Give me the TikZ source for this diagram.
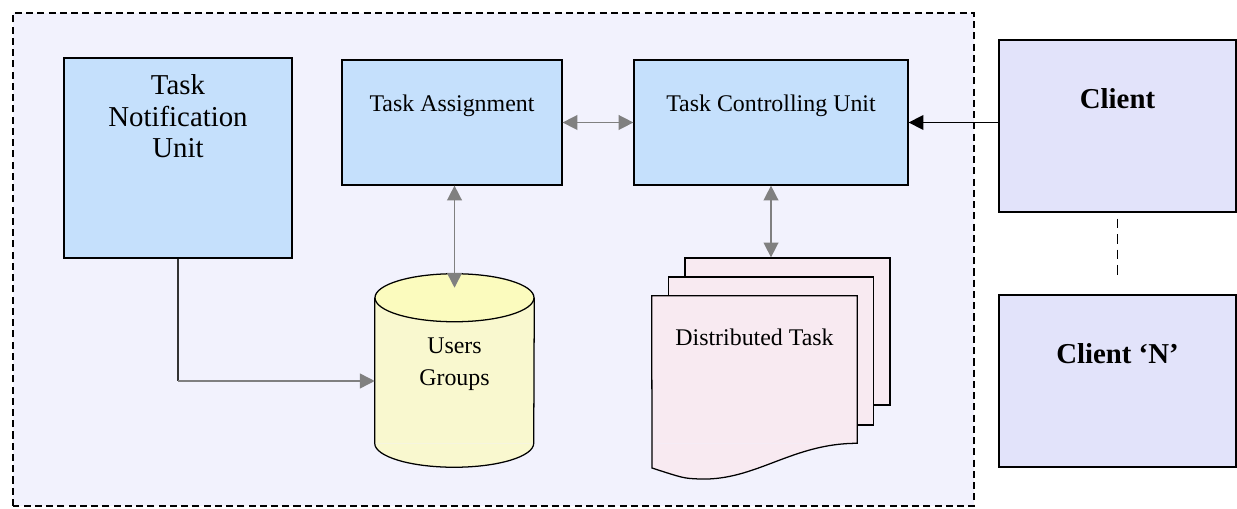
\documentclass[tikz,border=0pt]{standalone}
\usepackage{fontspec}
\setmainfont{Liberation Serif}
\usetikzlibrary{arrows.meta}
\definecolor{panelbg}{HTML}{F2F2FD}
\definecolor{unitblue}{HTML}{C5E0FC}
\definecolor{clientbg}{HTML}{E2E3FA}
\definecolor{cylbody}{HTML}{F9F8CF}
\definecolor{cyltop}{HTML}{FBFBBE}
\definecolor{pagebg}{HTML}{F8EAF1}
\definecolor{linkgray}{HTML}{808080}
\begin{document}
\begin{tikzpicture}%
[>={Triangle[length=0.37cm,width=0.37cm]},
unit/.style={rectangle,draw=black,fill=unitblue,line width=0.9pt,inner sep=0pt,
align=center,font=\fontsize{17}{22.7}\selectfont},
client/.style={rectangle,draw=black,fill=clientbg,line width=0.9pt,inner sep=0pt,
minimum width=5.925cm,text height=48.4pt,text depth=73.9pt,
font=\fontsize{20.5}{24}\selectfont\bfseries},
sheet/.style={rectangle,draw=black,fill=pagebg,line width=0.9pt,inner sep=0pt,
minimum width=5.125cm},
link/.style={draw=linkgray,line width=1.1pt}]
\useasboundingbox (0,0) rectangle (30.925,12.7);
\draw [line width=0.9pt,dash pattern=on 5pt off 3pt,fill=panelbg]
(0.325,0.05) rectangle (24.35,12.375);
\node (notify) at (4.45,8.75) [unit,minimum width=5.7cm,text height=71.1pt,
text depth=71.2pt,font=\fontsize{20.5}{22.5}\selectfont] {Task\\Notification\\Unit};
\node (assign) at (11.3,9.6375) [unit,minimum width=5.5cm,text height=36.3pt,
text depth=52.6pt] {Task Assignment};
\node (control) at (19.275,9.6375) [unit,minimum width=6.85cm,text height=36.3pt,
text depth=52.6pt] {Task Controlling Unit};
\node (client) at (27.9375,9.55) [client] {Client};
\node (clientn) at (27.9375,3.175) [client] {Client `N'};
\node (users) at (11.3625,3.4375) [fill=cylbody,inner sep=0pt,minimum width=3.975cm,
text height=61.9pt,text depth=41.2pt,align=center,
font=\fontsize{17}{22.7}\selectfont] {Users\\Groups};
\fill [cylbody] (users.south west) arc [start angle=180,end angle=360,
x radius=1.9875cm,y radius=0.6cm] -- cycle;
\draw [line width=0.9pt] (users.north west) -- (users.south west) arc
[start angle=180,end angle=360,x radius=1.9875cm,y radius=0.6cm] -- (users.north east);
\draw [line width=0.9pt,fill=cyltop] (users.north) ellipse [x radius=1.9875cm,
y radius=0.6cm];
\node (pageback) at (19.6875,4.4125) [sheet,minimum height=3.675cm] {};
\node (pagemid) at (19.275,3.925) [sheet,minimum height=3.7cm] {};
\node (dtask) at (18.8625,3.4625) [fill=pagebg,inner sep=0pt,minimum width=5.125cm,
text height=34.9pt,text depth=69.7pt,font=\fontsize{17}{22.7}\selectfont]
{Distributed Task};
\fill [pagebg] (dtask.south east) .. controls (19.8,1.62) and (18.9,0.68) ..
(17.5,0.725) .. controls (17.1,0.74) .. (16.3,1.0) -- (dtask.south west) -- cycle;
\draw [line width=0.9pt] (dtask.north west) -- (dtask.north east) -- (dtask.south east)
.. controls (19.8,1.62) and (18.9,0.68) .. (17.5,0.725) .. controls (17.1,0.74) ..
(16.3,1.0) -- cycle;
\coordinate (bend) at (notify.south |- 0,3.175);
\draw [line width=1.1pt,black!80] (notify.south) -- (bend);
\draw [->,link,fill=linkgray] (bend) -- (bend -| users.west);
\draw [<->,link,fill=linkgray] (assign.east) -- (control.west);
\draw [<->,link,fill=linkgray] (assign.south -| users.north) -- ([yshift=0.25cm]users.north);
\draw [<->,link,fill=linkgray] (control.south) -- (control.south |- pageback.north);
\draw [->,line width=1pt] (client.west |- control.east) -- (control.east);
\draw [line width=1.1pt,dash pattern=on 7pt off 4pt] ([yshift=-0.15cm]client.south) --
([yshift=0.35cm]clientn.north);
\end{tikzpicture}
\end{document}
